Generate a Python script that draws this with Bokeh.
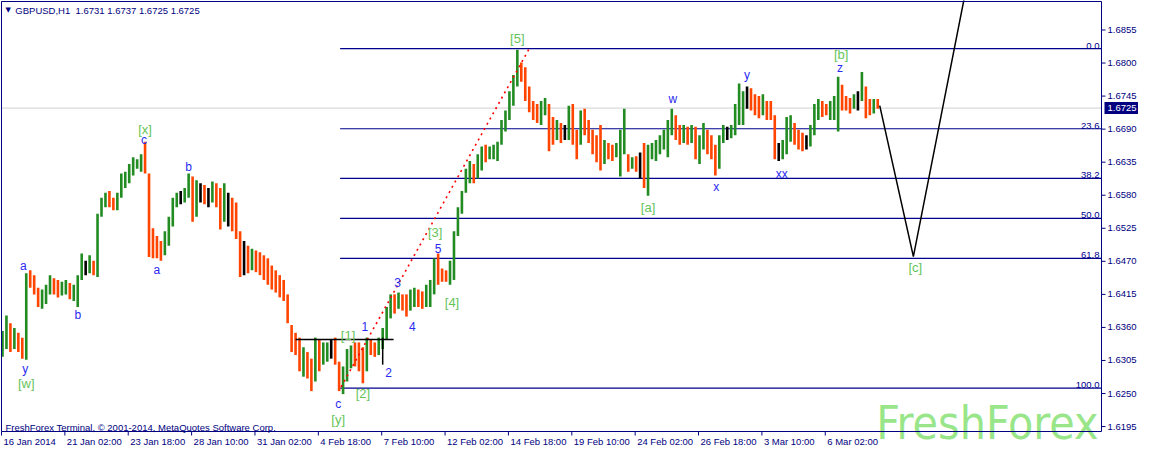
from bokeh.plotting import figure
from bokeh.models import Range1d, ColumnDataSource
from bokeh.core.properties import value
from bokeh.embed import file_html
from bokeh.resources import INLINE

# ---------------- data ----------------
symbol = "GBPUSD,H1"
last_ohlc = ["1.6731", "1.6737", "1.6725", "1.6725"]
bar_hours = 4          # each drawn bar aggregates 4 H1 bars
first_open = 1.6335

high = [
    1.6354, 1.6380, 1.6367, 1.6359, 1.6351, 1.6343, 1.6450, 1.6455, 1.6447, 1.6426,
    1.6423, 1.6431, 1.6447, 1.6442, 1.6439, 1.6436, 1.6439, 1.6434, 1.6431, 1.6447,
    1.6483, 1.6471, 1.6480, 1.6471, 1.6549, 1.6576, 1.6584, 1.6587, 1.6576, 1.6584,
    1.6616, 1.6619, 1.6632, 1.6643, 1.6640, 1.6648, 1.6669, 1.6616, 1.6525, 1.6512,
    1.6504, 1.6520, 1.6544, 1.6576, 1.6584, 1.6587, 1.6592, 1.6616, 1.6611, 1.6605,
    1.6600, 1.6597, 1.6592, 1.6603, 1.6600, 1.6592, 1.6600, 1.6584, 1.6576, 1.6568,
    1.6520, 1.6504, 1.6496, 1.6491, 1.6488, 1.6485, 1.6480, 1.6475, 1.6463, 1.6455,
    1.6447, 1.6439, 1.6415, 1.6364, 1.6351, 1.6343, 1.6327, 1.6319, 1.6308, 1.6343,
    1.6340, 1.6335, 1.6335, 1.6340, 1.6343, 1.6303, 1.6295, 1.6324, 1.6330, 1.6335,
    1.6335, 1.6327, 1.6343, 1.6340, 1.6335, 1.6343, 1.6359, 1.6394, 1.6415, 1.6415,
    1.6418, 1.6415, 1.6415, 1.6423, 1.6426, 1.6423, 1.6420, 1.6431, 1.6439, 1.6475,
    1.6483, 1.6458, 1.6455, 1.6471, 1.6520, 1.6560, 1.6587, 1.6624, 1.6637, 1.6632,
    1.6648, 1.6661, 1.6664, 1.6661, 1.6664, 1.6669, 1.6705, 1.6721, 1.6753, 1.6780,
    1.6822, 1.6801, 1.6793, 1.6761, 1.6737, 1.6732, 1.6737, 1.6742, 1.6732, 1.6710,
    1.6705, 1.6700, 1.6697, 1.6729, 1.6732, 1.6689, 1.6721, 1.6724, 1.6705, 1.6689,
    1.6680, 1.6697, 1.6672, 1.6667, 1.6664, 1.6667, 1.6689, 1.6724, 1.6648, 1.6643,
    1.6645, 1.6651, 1.6667, 1.6664, 1.6667, 1.6672, 1.6680, 1.6689, 1.6705, 1.6724,
    1.6713, 1.6697, 1.6697, 1.6694, 1.6697, 1.6694, 1.6680, 1.6700, 1.6689, 1.6680,
    1.6664, 1.6680, 1.6697, 1.6694, 1.6697, 1.6732, 1.6766, 1.6753, 1.6761, 1.6758,
    1.6748, 1.6745, 1.6748, 1.6737, 1.6737, 1.6713, 1.6667, 1.6672, 1.6710, 1.6713,
    1.6700, 1.6689, 1.6684, 1.6680, 1.6697, 1.6732, 1.6740, 1.6737, 1.6732, 1.6737,
    1.6745, 1.6777, 1.6764, 1.6745, 1.6742, 1.6748, 1.6753, 1.6785, 1.6761, 1.6740,
    1.6740, 1.6740,
]
low = [
    1.6311, 1.6324, 1.6319, 1.6324, 1.6319, 1.6308, 1.6306, 1.6426, 1.6415, 1.6394,
    1.6391, 1.6399, 1.6415, 1.6415, 1.6410, 1.6413, 1.6415, 1.6407, 1.6404, 1.6394,
    1.6439, 1.6447, 1.6450, 1.6447, 1.6444, 1.6544, 1.6560, 1.6560, 1.6555, 1.6555,
    1.6576, 1.6592, 1.6600, 1.6613, 1.6624, 1.6619, 1.6616, 1.6477, 1.6475, 1.6475,
    1.6471, 1.6480, 1.6496, 1.6528, 1.6560, 1.6565, 1.6568, 1.6576, 1.6536, 1.6544,
    1.6568, 1.6565, 1.6560, 1.6568, 1.6560, 1.6523, 1.6536, 1.6528, 1.6520, 1.6507,
    1.6444, 1.6447, 1.6450, 1.6455, 1.6452, 1.6447, 1.6439, 1.6431, 1.6423, 1.6418,
    1.6410, 1.6404, 1.6367, 1.6319, 1.6314, 1.6287, 1.6278, 1.6275, 1.6254, 1.6270,
    1.6287, 1.6298, 1.6303, 1.6308, 1.6298, 1.6254, 1.6249, 1.6270, 1.6292, 1.6295,
    1.6287, 1.6267, 1.6287, 1.6314, 1.6311, 1.6314, 1.6324, 1.6340, 1.6375, 1.6383,
    1.6391, 1.6388, 1.6378, 1.6388, 1.6394, 1.6394, 1.6391, 1.6394, 1.6394, 1.6415,
    1.6431, 1.6436, 1.6436, 1.6431, 1.6439, 1.6512, 1.6549, 1.6584, 1.6600, 1.6600,
    1.6608, 1.6621, 1.6635, 1.6640, 1.6640, 1.6637, 1.6664, 1.6686, 1.6705, 1.6729,
    1.6761, 1.6769, 1.6737, 1.6718, 1.6705, 1.6700, 1.6697, 1.6713, 1.6653, 1.6664,
    1.6672, 1.6667, 1.6672, 1.6672, 1.6664, 1.6640, 1.6664, 1.6680, 1.6667, 1.6648,
    1.6635, 1.6621, 1.6632, 1.6640, 1.6637, 1.6643, 1.6611, 1.6648, 1.6619, 1.6624,
    1.6619, 1.6608, 1.6592, 1.6579, 1.6640, 1.6637, 1.6648, 1.6656, 1.6643, 1.6680,
    1.6672, 1.6664, 1.6667, 1.6664, 1.6667, 1.6640, 1.6632, 1.6656, 1.6648, 1.6640,
    1.6613, 1.6624, 1.6667, 1.6672, 1.6675, 1.6680, 1.6697, 1.6697, 1.6724, 1.6721,
    1.6713, 1.6708, 1.6713, 1.6705, 1.6705, 1.6640, 1.6637, 1.6640, 1.6648, 1.6669,
    1.6664, 1.6656, 1.6653, 1.6656, 1.6661, 1.6680, 1.6705, 1.6710, 1.6713, 1.6705,
    1.6705, 1.6686, 1.6721, 1.6721, 1.6716, 1.6724, 1.6721, 1.6737, 1.6708, 1.6713,
    1.6716, 1.6724,
]
close = [
    1.6343, 1.6367, 1.6335, 1.6351, 1.6335, 1.6324, 1.6447, 1.6436, 1.6423, 1.6407,
    1.6415, 1.6423, 1.6439, 1.6431, 1.6423, 1.6426, 1.6428, 1.6415, 1.6423, 1.6439,
    1.6463, 1.6463, 1.6468, 1.6458, 1.6544, 1.6560, 1.6571, 1.6568, 1.6565, 1.6576,
    1.6608, 1.6613, 1.6624, 1.6632, 1.6635, 1.6640, 1.6624, 1.6512, 1.6496, 1.6491,
    1.6488, 1.6504, 1.6528, 1.6568, 1.6576, 1.6576, 1.6584, 1.6608, 1.6576, 1.6584,
    1.6584, 1.6576, 1.6576, 1.6584, 1.6576, 1.6544, 1.6560, 1.6560, 1.6544, 1.6520,
    1.6480, 1.6480, 1.6471, 1.6480, 1.6471, 1.6463, 1.6455, 1.6447, 1.6439, 1.6431,
    1.6423, 1.6415, 1.6375, 1.6343, 1.6335, 1.6303, 1.6308, 1.6295, 1.6278, 1.6324,
    1.6311, 1.6324, 1.6327, 1.6327, 1.6308, 1.6265, 1.6278, 1.6311, 1.6319, 1.6314,
    1.6303, 1.6295, 1.6335, 1.6327, 1.6324, 1.6335, 1.6343, 1.6383, 1.6407, 1.6404,
    1.6407, 1.6399, 1.6391, 1.6410, 1.6415, 1.6407, 1.6404, 1.6415, 1.6423, 1.6455,
    1.6450, 1.6447, 1.6444, 1.6447, 1.6512, 1.6552, 1.6576, 1.6608, 1.6619, 1.6616,
    1.6632, 1.6651, 1.6648, 1.6651, 1.6656, 1.6664, 1.6697, 1.6713, 1.6737, 1.6769,
    1.6790, 1.6785, 1.6753, 1.6729, 1.6721, 1.6713, 1.6721, 1.6732, 1.6697, 1.6680,
    1.6689, 1.6684, 1.6684, 1.6697, 1.6680, 1.6664, 1.6705, 1.6697, 1.6680, 1.6664,
    1.6656, 1.6648, 1.6656, 1.6651, 1.6648, 1.6656, 1.6664, 1.6672, 1.6632, 1.6635,
    1.6632, 1.6632, 1.6616, 1.6648, 1.6656, 1.6664, 1.6672, 1.6680, 1.6697, 1.6705,
    1.6689, 1.6680, 1.6684, 1.6677, 1.6680, 1.6656, 1.6664, 1.6680, 1.6664, 1.6656,
    1.6632, 1.6672, 1.6684, 1.6684, 1.6689, 1.6721, 1.6729, 1.6745, 1.6745, 1.6737,
    1.6732, 1.6726, 1.6729, 1.6721, 1.6713, 1.6656, 1.6656, 1.6661, 1.6689, 1.6697,
    1.6680, 1.6672, 1.6667, 1.6667, 1.6684, 1.6721, 1.6729, 1.6726, 1.6721, 1.6726,
    1.6729, 1.6745, 1.6737, 1.6732, 1.6729, 1.6737, 1.6737, 1.6761, 1.6729, 1.6726,
    1.6732, 1.6725,
]

# time axis (hours from chart start)
time_tick_hours = [0, 64, 128, 192, 256, 320, 384, 448, 512, 576, 640, 704, 768, 832]
time_tick_labels = ["16 Jan 2014", "21 Jan 02:00", "23 Jan 18:00", "28 Jan 10:00",
                    "31 Jan 02:00", "4 Feb 18:00", "7 Feb 10:00", "12 Feb 02:00",
                    "14 Feb 18:00", "19 Feb 10:00", "24 Feb 02:00", "26 Feb 18:00",
                    "3 Mar 10:00", "6 Mar 02:00"]
price_ticks = [1.6195, 1.6250, 1.6305, 1.6360, 1.6415, 1.6470, 1.6525,
               1.6580, 1.6635, 1.6690, 1.6745, 1.6800, 1.6855]
current_price = 1.6725

# visible chart window (hours, price)
CH_X0, CH_X1 = 0, 1111
CH_Y0, CH_Y1 = 1.61868, 1.69024

# Fibonacci retracement
fib_high = 1.6824
fib_low = 1.6259
fib_levels = [0.0, 23.6, 38.2, 50.0, 61.8, 100.0]
fib_start_hour = 342

# Elliott wave marks
wave_text = ["y", "a", "b", "c", "a", "b", "c", "1", "2", "3", "4", "5",
             "w", "x", "y", "xx", "z"]
wave_hour = [24, 22, 77, 144, 157, 189, 340, 367, 391, 400, 415, 441,
             678, 722, 753, 788, 847]
wave_price = [1.6291, 1.6463, 1.6381, 1.6672, 1.6455, 1.6627, 1.6233, 1.6362,
              1.6285, 1.6434, 1.6362, 1.6492, 1.6740, 1.6594, 1.6780, 1.6616, 1.6791]
major_text = ["[w]", "[x]", "[y]", "[1]", "[2]", "[3]", "[4]", "[5]", "[a]", "[b]", "[c]"]
major_hour = [25, 145, 340, 350, 365, 438, 455, 521, 653, 848, 923]
major_price = [1.6267, 1.6689, 1.6206, 1.6346, 1.6250, 1.6518, 1.6402, 1.6841,
               1.6560, 1.6814, 1.6459]

# drawn objects
trend_hour = [343, 533]
trend_price = [1.6261, 1.6824]
level1_hour = [297, 396]
level1_price = [1.6340, 1.6340]
mark2_hour = [385, 385]
mark2_price = [1.6343, 1.6298]
proj_hour = [887, 921, 975]
proj_price = [1.6729, 1.6478, 1.6930]

# ---------------- layout / styles ----------------
W, H = 1138, 449                 # canvas
CHART_W, CHART_H = 1100, 430     # chart frame size in px
PAD_L, PAD_T = 1, 1
SX = CHART_W / (CH_X1 - CH_X0)   # px per hour
SY = CHART_H / (CH_Y1 - CH_Y0)   # px per price unit

NAVY = "#000080"
FIBC = "#00008c"
UP = "#228B22"
DOWN = "#FF4500"
BLUE_LBL = "#2a2af0"
GREEN_LBL = "#66c45a"
FONT = value("Liberation Sans")
SMALL_SIZE = value("9.5px")

n = len(close)
bar_t = [1 + bar_hours * i for i in range(n)]
opens = [first_open] + close[:-1]
colors = [UP if c > o else (DOWN if c < o else "black") for o, c in zip(opens, close)]

p = figure(width=W, height=H,
           x_range=Range1d(CH_X0 - PAD_L / SX, CH_X0 + (W - PAD_L) / SX),
           y_range=Range1d(CH_Y1 - (H - PAD_T) / SY, CH_Y1 + PAD_T / SY),
           output_backend="svg", toolbar_location=None, title=None,
           x_axis_location=None, y_axis_location=None,
           min_border_left=0, min_border_top=0, min_border_right=0, min_border_bottom=0)
p.background_fill_color = "white"
p.border_fill_color = "white"
p.outline_line_color = None
p.grid.visible = False

# watermark (behind everything)
p.text(x=[CH_X1 - 3 / SX], y=[CH_Y0 + 8.5 / SY], text=["FreshForex"], text_align="right",
       text_baseline="alphabetic", text_color="#99e68a",
       text_font=value("DejaVu Sans Condensed"), text_font_size=value("46px"))

# current price line
p.line([CH_X0, CH_X1], [current_price, current_price], line_color="#d0d0d0", line_width=1)

# fibonacci lines and labels
fib_prices = [fib_high - lv / 100.0 * (fib_high - fib_low) for lv in fib_levels]
p.segment(x0=[fib_start_hour] * len(fib_prices), y0=fib_prices,
          x1=[CH_X1] * len(fib_prices), y1=fib_prices, line_color=FIBC, line_width=1.2)
p.text(x=[CH_X1 - 2 / SX] * len(fib_prices), y=fib_prices,
       text=["%.1f" % lv for lv in fib_levels], text_align="right",
       text_baseline="bottom", text_color=FIBC, text_font=FONT,
       text_font_size=SMALL_SIZE)

# price bars
src = ColumnDataSource(dict(t=bar_t, hi=high, lo=low, col=colors))
p.segment(x0="t", y0="lo", x1="t", y1="hi", line_color="col", line_width=2.6, source=src)

# trend line (dotted red)
p.line(trend_hour, trend_price, line_color="red", line_width=1.6, line_dash="2 4")
# black helper lines
p.line(level1_hour, level1_price, line_color="black", line_width=1.5)
p.line(mark2_hour, mark2_price, line_color="black", line_width=1.5)
p.line(proj_hour, proj_price, line_color="black", line_width=1.5)

# chart frame
p.multi_line(xs=[[CH_X0, CH_X0, CH_X1, CH_X1, CH_X0]], ys=[[CH_Y0, CH_Y1, CH_Y1, CH_Y0, CH_Y0]],
             line_color=NAVY, line_width=1)

# price axis ticks + labels
p.segment(x0=[CH_X1] * len(price_ticks), y0=price_ticks,
          x1=[CH_X1 + 4 / SX] * len(price_ticks), y1=price_ticks,
          line_color=NAVY, line_width=1)
p.text(x=[CH_X1 + 6 / SX] * len(price_ticks), y=price_ticks,
       text=["%.4f" % t for t in price_ticks], text_align="left", text_baseline="middle",
       text_color=NAVY, text_font=FONT, text_font_size=SMALL_SIZE)

# time axis ticks + labels
p.segment(x0=time_tick_hours, y0=[CH_Y0] * len(time_tick_hours),
          x1=time_tick_hours, y1=[CH_Y0 - 4 / SY] * len(time_tick_hours),
          line_color=NAVY, line_width=1)
p.text(x=[h + 2 / SX for h in time_tick_hours], y=[CH_Y0 - 4 / SY] * len(time_tick_hours),
       text=time_tick_labels, text_align="left", text_baseline="top",
       text_color=NAVY, text_font=FONT, text_font_size=SMALL_SIZE)

# current price box on the price axis
p.rect(x=[CH_X1 + (3 + 18) / SX], y=[current_price], width=36 / SX, height=12 / SY,
       fill_color=NAVY, line_color=None)
p.text(x=[CH_X1 + 6 / SX], y=[current_price], text=["%.4f" % current_price],
       text_align="left", text_baseline="middle", text_color="white",
       text_font=FONT, text_font_size=SMALL_SIZE)

# wave labels
p.text(x=wave_hour, y=wave_price, text=wave_text, text_align="center",
       text_baseline="middle", text_color=BLUE_LBL, text_font=FONT,
       text_font_size=value("12px"))
p.text(x=major_hour, y=major_price, text=major_text, text_align="center",
       text_baseline="middle", text_color=GREEN_LBL, text_font=FONT,
       text_font_size=value("13px"))

# header / footer texts
p.text(x=[4], y=[1.68879], text=["\u25bc"], text_align="left", text_baseline="middle",
       text_color=NAVY, text_font=value("DejaVu Sans"), text_font_size=value("7px"))
p.text(x=[14], y=[1.68879],
       text=[symbol + "\u00a0\u00a0" + " ".join(last_ohlc)], text_align="left",
       text_baseline="middle", text_color=NAVY, text_font=FONT,
       text_font_size=SMALL_SIZE)
p.text(x=[4], y=[1.6193],
       text=["FreshForex Terminal, \u00a9 2001-2014, MetaQuotes Software Corp."],
       text_align="left", text_baseline="alphabetic", text_color=NAVY, text_font=FONT,
       text_font_size=SMALL_SIZE)

open("out.html", "w").write(file_html(p, INLINE))
